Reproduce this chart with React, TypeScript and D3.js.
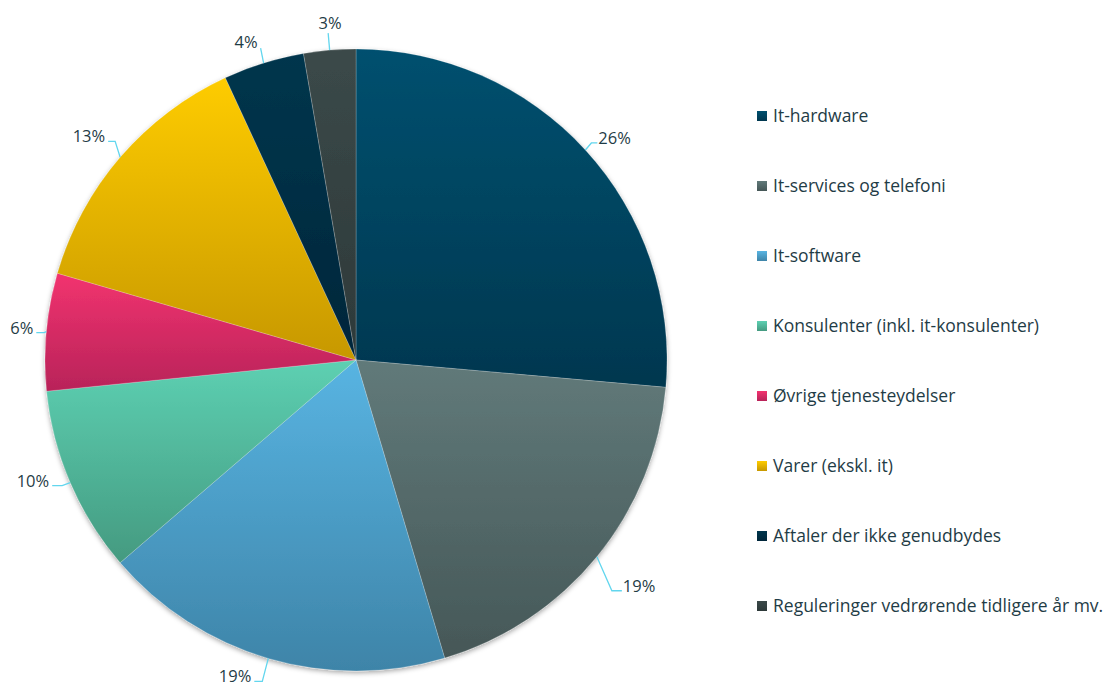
import React from 'react';
import * as d3 from 'd3';

// shares (percent)
const categories = [
  'It-hardware',
  'It-services og telefoni',
  'It-software',
  'Konsulenter (inkl. it-konsulenter)',
  'Øvrige tjenesteydelser',
  'Varer (ekskl. it)',
  'Aftaler der ikke genudbydes',
  'Reguleringer vedrørende tidligere år mv.',
];
const shares = [26.4, 19.0, 18.3, 9.7, 6.1, 13.6, 4.2, 2.7];
const percentLabels = ['26%', '19%', '19%', '10%', '6%', '13%', '4%', '3%'];

// top / bottom colour of each slice's vertical gradient
const colorsTop = ['#00506f', '#617a7a', '#58b4e2', '#5dd0b2', '#f2336f', '#fecc00', '#00364d', '#3b4949'];
const colorsBottom = ['#00374f', '#455757', '#3e84a8', '#449a80', '#b82359', '#c79800', '#00263a', '#2d3939'];

// data label leader lines (elbow offset from the slice edge, horizontal leg length)
const labelLayout = [
  { dx: 6, dy: -7, h: 6, anchor: 'start' },
  { dx: 15, dy: 34, h: 10, anchor: 'start' },
  { dx: -6, dy: 23, h: -8, anchor: 'end' },
  { dx: -8, dy: 3, h: -10, anchor: 'end' },
  { dx: -2, dy: 1, h: -8, anchor: 'end' },
  { dx: -5, dy: -16, h: -7, anchor: 'end' },
  { dx: -3, dy: -15, h: 0, anchor: 'end' },
  { dx: -1.5, dy: -17, h: 0, anchor: 'middle' },
];

const width = 1108;
const height = 687;
const cx = 356;
const cy = 360;
const radius = 311;
const textColor = '#1f3c46';
const leaderColor = '#62d6ee';
const font = '"Open Sans", "Noto Sans", sans-serif';

type Datum = { name: string; value: number; label: string; i: number };

export default function App() {
  const data: Datum[] = categories.map((name, i) => ({ name, value: shares[i], label: percentLabels[i], i }));

  const pie = d3.pie<Datum>().value(d => d.value).sort(null);
  const arcs = pie(data);
  const arc = d3.arc<d3.PieArcDatum<Datum>>().innerRadius(0).outerRadius(radius);

  // legend rows
  const legendY = d3.scalePoint<string>().domain(categories).range([116, 606]);

  const labelNodes = arcs.map(a => {
    const lay = labelLayout[a.data.i];
    const mid = (a.startAngle + a.endAngle) / 2;
    const ex = cx + radius * Math.sin(mid);
    const ey = cy - radius * Math.cos(mid);
    const bx = ex + lay.dx;
    const by = ey + lay.dy;
    const hx = bx + lay.h;
    let tx = hx + (lay.h > 0 ? 1 : -3);
    let ty = by + 1;
    if (lay.h === 0) {
      tx = lay.anchor === 'middle' ? bx + 2 : bx - 3;
      ty = lay.anchor === 'middle' ? by - 4 : by;
    }
    return (
      <g key={a.data.name}>
        <path d={`M${ex},${ey}L${bx},${by}L${hx},${by}`} stroke={leaderColor} strokeWidth={1.3} fill="none" />
        <text x={tx} y={ty} textAnchor={lay.anchor} fontSize={16.5} fill={textColor}>{a.data.label}</text>
      </g>
    );
  });

  return (
    <svg width={width} height={height} style={{ position: 'absolute', left: 0, top: 0, fontFamily: font }}>
      <defs>
        {colorsTop.map((c, i) => (
          <linearGradient key={i} id={`grad${i}`} x1="0" y1="0" x2="0" y2="1">
            <stop offset="0%" stopColor={c} />
            <stop offset="100%" stopColor={colorsBottom[i]} />
          </linearGradient>
        ))}
        <filter id="shadow" x="-10%" y="-10%" width="120%" height="120%">
          <feDropShadow dx="0" dy="2" stdDeviation="2.5" floodColor="#000" floodOpacity="0.35" />
        </filter>
      </defs>
      <rect width={width} height={height} fill="#ffffff" />
      <g transform={`translate(${cx},${cy})`} filter="url(#shadow)">
        {arcs.map(a => (
          <path key={a.data.name} d={arc(a) ?? ''} fill={`url(#grad${a.data.i})`} stroke="#ffffff" strokeOpacity={0.35} strokeWidth={0.6} />
        ))}
      </g>
      {labelNodes}
      <g>
        {categories.map((name, i) => (
          <g key={name} transform={`translate(757,${legendY(name)})`}>
            <rect x={0} y={-5} width={10} height={10} fill={`url(#grad${i})`} />
            <text x={16} y={0} dy="0.36em" fontSize={17.5} fill={textColor}>{name}</text>
          </g>
        ))}
      </g>
    </svg>
  );
}
